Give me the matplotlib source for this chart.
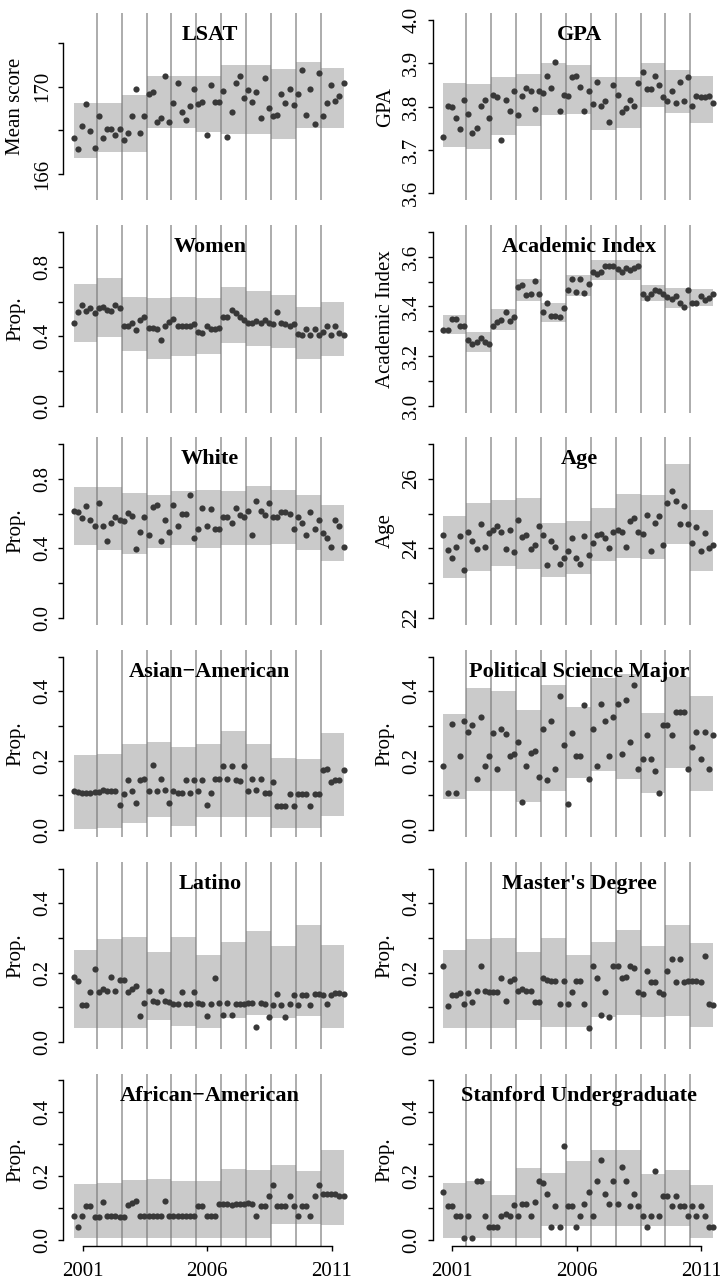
import numpy as np
import matplotlib
matplotlib.use("Agg")
import matplotlib.pyplot as plt

plt.rcParams['font.family'] = ['Liberation Serif', 'DejaVu Serif']

# ---------------- data ----------------
# 66 observations (6 per admissions cycle, Nov 2000 - Jun 2011)
n_obs = 66
x_time = 2000.64 + np.arange(n_obs) / 6.0
cycle_breaks = [2001.56, 2002.56, 2003.56, 2004.56, 2005.56,
                2006.56, 2007.56, 2008.56, 2009.56, 2010.56]

lsat_vals = [167.63, 167.13, 168.21, 169.22, 167.97, 167.21,
             168.63, 167.63, 168.06, 168.06, 167.79, 168.06,
             167.56, 167.86, 168.63, 169.89, 167.86, 168.63,
             169.65, 169.74, 168.40, 168.55, 170.50, 168.37,
             169.24, 170.15, 168.82, 168.47, 169.13, 169.89,
             169.19, 169.31, 167.79, 170.08, 169.31, 169.31,
             169.80, 167.71, 168.85, 170.15, 170.50, 169.47,
             169.85, 169.31, 169.74, 168.55, 170.38, 169.04,
             168.63, 168.70, 169.66, 169.24, 169.89, 169.16,
             169.65, 170.76, 168.70, 169.89, 168.27, 170.61,
             168.63, 169.24, 170.05, 169.34, 169.57, 170.15]
lsat_lo = [166.72, 167.0, 167.0, 168.1, 168.1, 167.9, 167.85, 167.85, 167.6, 168.1, 168.1]
lsat_hi = [169.24, 169.24, 169.6, 170.5, 170.5, 170.5, 171.0, 171.0, 170.8, 171.1, 170.85]

gpa_vals = [3.731, 3.802, 3.800, 3.773, 3.748, 3.815,
            3.783, 3.740, 3.750, 3.802, 3.815, 3.773,
            3.828, 3.822, 3.723, 3.815, 3.790, 3.837,
            3.781, 3.825, 3.842, 3.837, 3.794, 3.837,
            3.832, 3.871, 3.842, 3.902, 3.790, 3.827,
            3.825, 3.868, 3.871, 3.845, 3.791, 3.837,
            3.806, 3.858, 3.802, 3.812, 3.765, 3.850,
            3.827, 3.788, 3.796, 3.815, 3.802, 3.855,
            3.881, 3.840, 3.840, 3.871, 3.850, 3.822,
            3.812, 3.837, 3.809, 3.858, 3.814, 3.868,
            3.802, 3.825, 3.822, 3.822, 3.825, 3.808]
gpa_lo = [3.708, 3.702, 3.735, 3.755, 3.781, 3.783, 3.746, 3.750, 3.800, 3.785, 3.762]
gpa_hi = [3.855, 3.852, 3.868, 3.875, 3.900, 3.896, 3.868, 3.868, 3.900, 3.885, 3.871]

women_vals = [0.475, 0.542, 0.580, 0.545, 0.561, 0.532,
              0.561, 0.570, 0.551, 0.545, 0.580, 0.561,
              0.459, 0.459, 0.475, 0.436, 0.494, 0.509,
              0.446, 0.450, 0.440, 0.379, 0.459, 0.484,
              0.498, 0.459, 0.459, 0.459, 0.459, 0.471,
              0.427, 0.421, 0.459, 0.440, 0.440, 0.446,
              0.513, 0.513, 0.551, 0.532, 0.509, 0.494,
              0.478, 0.478, 0.490, 0.475, 0.494, 0.478,
              0.471, 0.542, 0.475, 0.471, 0.459, 0.471,
              0.413, 0.408, 0.440, 0.408, 0.440, 0.408,
              0.427, 0.459, 0.408, 0.459, 0.421, 0.408]
women_lo = [0.369, 0.398, 0.312, 0.268, 0.283, 0.298, 0.360, 0.341, 0.331, 0.268, 0.283]
women_hi = [0.700, 0.733, 0.628, 0.618, 0.624, 0.618, 0.681, 0.662, 0.637, 0.567, 0.599]

acad_vals = [3.304, 3.307, 3.350, 3.350, 3.323, 3.323,
             3.266, 3.250, 3.256, 3.273, 3.256, 3.250,
             3.323, 3.336, 3.344, 3.377, 3.340, 3.358,
             3.479, 3.488, 3.448, 3.452, 3.502, 3.452,
             3.377, 3.412, 3.363, 3.363, 3.358, 3.394,
             3.465, 3.511, 3.457, 3.511, 3.455, 3.492,
             3.538, 3.533, 3.538, 3.565, 3.565, 3.562,
             3.552, 3.538, 3.556, 3.546, 3.556, 3.562,
             3.452, 3.435, 3.452, 3.468, 3.461, 3.452,
             3.439, 3.430, 3.444, 3.412, 3.398, 3.468,
             3.412, 3.414, 3.444, 3.425, 3.435, 3.452]
acad_lo = [3.287, 3.215, 3.304, 3.421, 3.336, 3.441, 3.506, 3.506, 3.421, 3.394, 3.400]
acad_hi = [3.367, 3.296, 3.390, 3.511, 3.414, 3.525, 3.587, 3.587, 3.488, 3.475, 3.470]

white_vals = [0.618, 0.610, 0.576, 0.643, 0.566, 0.528,
              0.662, 0.528, 0.441, 0.547, 0.580, 0.566,
              0.560, 0.605, 0.585, 0.399, 0.495, 0.580,
              0.476, 0.637, 0.653, 0.441, 0.566, 0.495,
              0.653, 0.528, 0.599, 0.599, 0.706, 0.461,
              0.509, 0.633, 0.528, 0.630, 0.509, 0.509,
              0.580, 0.580, 0.547, 0.633, 0.595, 0.580,
              0.618, 0.476, 0.676, 0.618, 0.595, 0.662,
              0.580, 0.580, 0.610, 0.610, 0.599, 0.509,
              0.580, 0.547, 0.480, 0.610, 0.509, 0.566,
              0.489, 0.461, 0.407, 0.566, 0.528, 0.407]
white_lo = [0.418, 0.393, 0.369, 0.403, 0.422, 0.403, 0.422, 0.422, 0.426, 0.393, 0.326]
white_hi = [0.752, 0.752, 0.720, 0.710, 0.733, 0.739, 0.729, 0.758, 0.739, 0.710, 0.649]

age_vals = [24.38, 23.94, 23.73, 24.03, 24.35, 23.39,
            24.47, 24.21, 23.97, 24.69, 24.03, 24.45,
            24.54, 24.64, 24.47, 23.99, 24.54, 23.90,
            24.83, 24.32, 24.38, 23.97, 24.09, 24.64,
            24.38, 23.53, 24.21, 24.03, 23.55, 23.73,
            23.92, 24.30, 23.73, 23.55, 24.35, 23.82,
            24.16, 24.38, 24.42, 24.30, 24.01, 24.47,
            24.54, 24.47, 24.03, 24.78, 24.88, 24.47,
            24.42, 24.95, 23.92, 24.73, 24.93, 24.09,
            25.31, 25.65, 25.38, 24.70, 25.21, 24.69,
            24.16, 24.61, 23.92, 24.45, 24.00, 24.11]
age_lo = [23.15, 23.36, 23.49, 23.42, 23.17, 23.27, 23.65, 23.73, 23.68, 24.13, 23.36]
age_hi = [24.93, 25.31, 25.40, 25.45, 24.73, 24.78, 25.17, 25.57, 25.55, 26.43, 25.12]

asian_vals = [0.111, 0.109, 0.107, 0.107, 0.107, 0.109,
              0.109, 0.114, 0.111, 0.111, 0.111, 0.072,
              0.104, 0.143, 0.111, 0.078, 0.143, 0.148,
              0.111, 0.188, 0.111, 0.148, 0.114, 0.078,
              0.111, 0.107, 0.107, 0.143, 0.107, 0.143,
              0.111, 0.143, 0.072, 0.107, 0.148, 0.148,
              0.184, 0.148, 0.184, 0.143, 0.140, 0.184,
              0.111, 0.148, 0.114, 0.148, 0.107, 0.107,
              0.138, 0.070, 0.070, 0.070, 0.104, 0.070,
              0.104, 0.104, 0.104, 0.070, 0.104, 0.104,
              0.172, 0.175, 0.138, 0.143, 0.143, 0.172]
asian_lo = [0.004, 0.007, 0.021, 0.036, 0.012, 0.036, 0.036, 0.036, 0.007, 0.007, 0.039]
asian_hi = [0.217, 0.220, 0.247, 0.254, 0.240, 0.247, 0.285, 0.247, 0.208, 0.204, 0.279]

polsci_vals = [0.183, 0.106, 0.306, 0.106, 0.212, 0.313,
               0.282, 0.304, 0.147, 0.325, 0.183, 0.212,
               0.280, 0.176, 0.292, 0.277, 0.212, 0.219,
               0.255, 0.080, 0.183, 0.222, 0.228, 0.154,
               0.292, 0.145, 0.313, 0.176, 0.386, 0.246,
               0.074, 0.280, 0.212, 0.212, 0.361, 0.147,
               0.292, 0.183, 0.363, 0.313, 0.212, 0.325,
               0.363, 0.219, 0.376, 0.255, 0.419, 0.176,
               0.205, 0.273, 0.205, 0.171, 0.106, 0.304,
               0.304, 0.273, 0.340, 0.340, 0.340, 0.176,
               0.238, 0.282, 0.205, 0.282, 0.176, 0.273]
polsci_lo = [0.090, 0.113, 0.111, 0.082, 0.111, 0.151, 0.169, 0.147, 0.106, 0.178, 0.111]
polsci_hi = [0.334, 0.408, 0.400, 0.347, 0.417, 0.354, 0.437, 0.450, 0.337, 0.440, 0.386]

latino_vals = [0.187, 0.175, 0.106, 0.106, 0.146, 0.211,
               0.146, 0.154, 0.148, 0.187, 0.148, 0.180,
               0.180, 0.146, 0.154, 0.161, 0.075, 0.113,
               0.148, 0.120, 0.116, 0.148, 0.118, 0.116,
               0.110, 0.110, 0.146, 0.110, 0.110, 0.146,
               0.113, 0.110, 0.075, 0.110, 0.185, 0.113,
               0.078, 0.113, 0.078, 0.110, 0.110, 0.110,
               0.113, 0.113, 0.043, 0.113, 0.110, 0.072,
               0.106, 0.139, 0.106, 0.072, 0.110, 0.137,
               0.106, 0.137, 0.137, 0.106, 0.139, 0.139,
               0.137, 0.110, 0.137, 0.142, 0.142, 0.139]
latino_lo = [0.041, 0.041, 0.041, 0.065, 0.046, 0.041, 0.070, 0.079, 0.070, 0.075, 0.041]
latino_hi = [0.266, 0.298, 0.304, 0.261, 0.304, 0.252, 0.290, 0.320, 0.276, 0.338, 0.280]

masters_vals = [0.221, 0.103, 0.137, 0.137, 0.142, 0.110,
                0.142, 0.116, 0.148, 0.221, 0.148, 0.144,
                0.144, 0.144, 0.185, 0.120, 0.177, 0.183,
                0.148, 0.154, 0.148, 0.148, 0.116, 0.116,
                0.185, 0.180, 0.177, 0.177, 0.110, 0.177,
                0.110, 0.144, 0.177, 0.177, 0.110, 0.041,
                0.221, 0.185, 0.078, 0.144, 0.072, 0.221,
                0.221, 0.185, 0.189, 0.221, 0.213, 0.144,
                0.139, 0.206, 0.173, 0.173, 0.144, 0.139,
                0.206, 0.240, 0.173, 0.240, 0.173, 0.177,
                0.177, 0.177, 0.173, 0.247, 0.110, 0.106]
masters_lo = [0.041, 0.041, 0.041, 0.065, 0.043, 0.043, 0.072, 0.079, 0.072, 0.075, 0.043]
masters_hi = [0.266, 0.298, 0.300, 0.261, 0.300, 0.252, 0.290, 0.323, 0.276, 0.338, 0.285]

afam_vals = [0.076, 0.039, 0.073, 0.107, 0.107, 0.071,
             0.071, 0.117, 0.076, 0.076, 0.073, 0.071,
             0.071, 0.108, 0.115, 0.120, 0.073, 0.076,
             0.076, 0.076, 0.076, 0.076, 0.120, 0.076,
             0.073, 0.073, 0.073, 0.073, 0.073, 0.076,
             0.107, 0.107, 0.073, 0.076, 0.076, 0.113,
             0.113, 0.113, 0.110, 0.113, 0.113, 0.113,
             0.115, 0.113, 0.073, 0.107, 0.107, 0.136,
             0.173, 0.107, 0.107, 0.107, 0.136, 0.107,
             0.073, 0.107, 0.107, 0.073, 0.138, 0.173,
             0.145, 0.145, 0.145, 0.145, 0.138, 0.138]
afam_lo = [0.005, 0.005, 0.005, 0.005, 0.005, 0.005, 0.005, 0.005, 0.050, 0.050, 0.047]
afam_hi = [0.175, 0.178, 0.188, 0.190, 0.183, 0.183, 0.222, 0.220, 0.236, 0.215, 0.283]

stanford_vals = [0.149, 0.107, 0.107, 0.073, 0.073, 0.005,
                 0.073, 0.005, 0.183, 0.183, 0.076, 0.040,
                 0.040, 0.040, 0.076, 0.082, 0.076, 0.110,
                 0.076, 0.113, 0.113, 0.076, 0.117, 0.183,
                 0.178, 0.145, 0.040, 0.107, 0.040, 0.293,
                 0.107, 0.107, 0.040, 0.076, 0.113, 0.149,
                 0.076, 0.183, 0.249, 0.145, 0.113, 0.183,
                 0.113, 0.228, 0.183, 0.107, 0.145, 0.107,
                 0.073, 0.040, 0.073, 0.215, 0.073, 0.138,
                 0.138, 0.107, 0.138, 0.107, 0.107, 0.073,
                 0.107, 0.073, 0.107, 0.073, 0.040, 0.040]
stanford_lo = [0.005, 0.005, 0.005, 0.005, 0.042, 0.042, 0.042, 0.042, 0.042, 0.042, 0.005]
stanford_hi = [0.178, 0.183, 0.141, 0.225, 0.209, 0.246, 0.283, 0.283, 0.207, 0.220, 0.173]

titles = ["LSAT", "GPA", "Women", "Academic Index", "White", "Age",
          "Asian\u2212American", "Political Science Major", "Latino",
          "Master's Degree", "African\u2212American", "Stanford Undergraduate"]
ylabels = ["Mean score", "GPA", "Prop.", "Academic Index", "Prop.", "Age",
           "Prop.", "Prop.", "Prop.", "Prop.", "Prop.", "Prop."]
x_ticks = [2001, 2006, 2011]
x_ticklabels = ["2001", "2006", "2011"]

prop_ticks = [0.0, 0.1, 0.2, 0.3, 0.4, 0.5]
prop_labels = ["0.0", "", "0.2", "", "0.4", ""]
y_axes = [
    ((164.8, 173.36), [166, 168, 170, 172], ["166", "", "170", ""]),
    ((3.584, 4.016), [3.6, 3.7, 3.8, 3.9, 4.0], ["3.6", "3.7", "3.8", "3.9", "4.0"]),
    ((-0.04, 1.04), [0, 0.2, 0.4, 0.6, 0.8, 1.0], ["0.0", "", "0.4", "", "0.8", ""]),
    ((2.972, 3.728), [3.0, 3.1, 3.2, 3.3, 3.4, 3.5, 3.6, 3.7],
     ["3.0", "", "3.2", "", "3.4", "", "3.6", ""]),
    ((-0.04, 1.04), [0, 0.2, 0.4, 0.6, 0.8, 1.0], ["0.0", "", "0.4", "", "0.8", ""]),
    ((21.8, 27.2), [22, 23, 24, 25, 26, 27], ["22", "", "24", "", "26", ""]),
] + [((-0.02, 0.52), prop_ticks, prop_labels)] * 6

series = [(lsat_vals, lsat_lo, lsat_hi), (gpa_vals, gpa_lo, gpa_hi),
          (women_vals, women_lo, women_hi), (acad_vals, acad_lo, acad_hi),
          (white_vals, white_lo, white_hi), (age_vals, age_lo, age_hi),
          (asian_vals, asian_lo, asian_hi), (polsci_vals, polsci_lo, polsci_hi),
          (latino_vals, latino_lo, latino_hi), (masters_vals, masters_lo, masters_hi),
          (afam_vals, afam_lo, afam_hi), (stanford_vals, stanford_lo, stanford_hi)]

# ---------------- layout ----------------
W, H = 720, 1285
fig = plt.figure(figsize=(W / 100, H / 100), dpi=100)
fig.patch.set_facecolor("white")

band_edges = np.array([x_time[0]] + cycle_breaks + [x_time[-1]])

for i in range(12):
    row, col = divmod(i, 2)
    left_px = 63.3 if col == 0 else 432.8
    top_px = 13 + 212.2 * row
    h_px = 187.3 if row < 5 else 172.1
    ax = fig.add_axes([left_px / W, 1 - (top_px + h_px) / H, 293 / W, h_px / H])

    vals, lo, hi = series[i]
    lo_ext = list(lo) + [lo[-1]]
    hi_ext = list(hi) + [hi[-1]]
    ax.fill_between(band_edges, lo_ext, hi_ext, step="post",
                    color="#cacaca", linewidth=0, zorder=1)
    for b in cycle_breaks:
        ax.axvline(b, color="#7a7a7a", linewidth=1.2, alpha=0.72, zorder=2)
    ax.scatter(x_time, vals, s=20, color="#383838", linewidths=0, zorder=3)

    ax.set_xlim(2000.215, 2011.985)
    ylim, yt, ytl = y_axes[i]
    ax.set_ylim(*ylim)
    ax.set_yticks(yt)
    ax.set_yticklabels(ytl)
    for lbl in ax.get_yticklabels():
        lbl.set_rotation(90)
        lbl.set_va("center")
        lbl.set_ha("right")
    ax.tick_params(axis="y", length=3.6, width=1.0, pad=4.7, labelsize=15)

    for s in ["top", "right"]:
        ax.spines[s].set_visible(False)
    ax.spines["left"].set_bounds(yt[0], yt[-1])
    ax.spines["left"].set_linewidth(1.0)

    if row == 5:
        ax.set_xticks(x_ticks)
        ax.set_xticklabels(x_ticklabels)
        ax.tick_params(axis="x", length=3.6, width=1.0, pad=8, labelsize=15)
        ax.spines["bottom"].set_bounds(x_ticks[0], x_ticks[-1])
        ax.spines["bottom"].set_linewidth(1.0)
    else:
        ax.set_xticks([])
        ax.spines["bottom"].set_visible(False)

    ax.set_ylabel(ylabels[i], fontsize=15)
    ax.yaxis.label.set_va("center")
    ax.yaxis.set_label_coords(-0.162, 0.5)

    ax.annotate(titles[i], xy=(0.5, 1), xycoords="axes fraction",
                xytext=(0, -19.5), textcoords="offset points",
                ha="center", va="baseline", fontsize=16, fontweight="bold",
                zorder=5)

fig.savefig("out.png", dpi=100)
